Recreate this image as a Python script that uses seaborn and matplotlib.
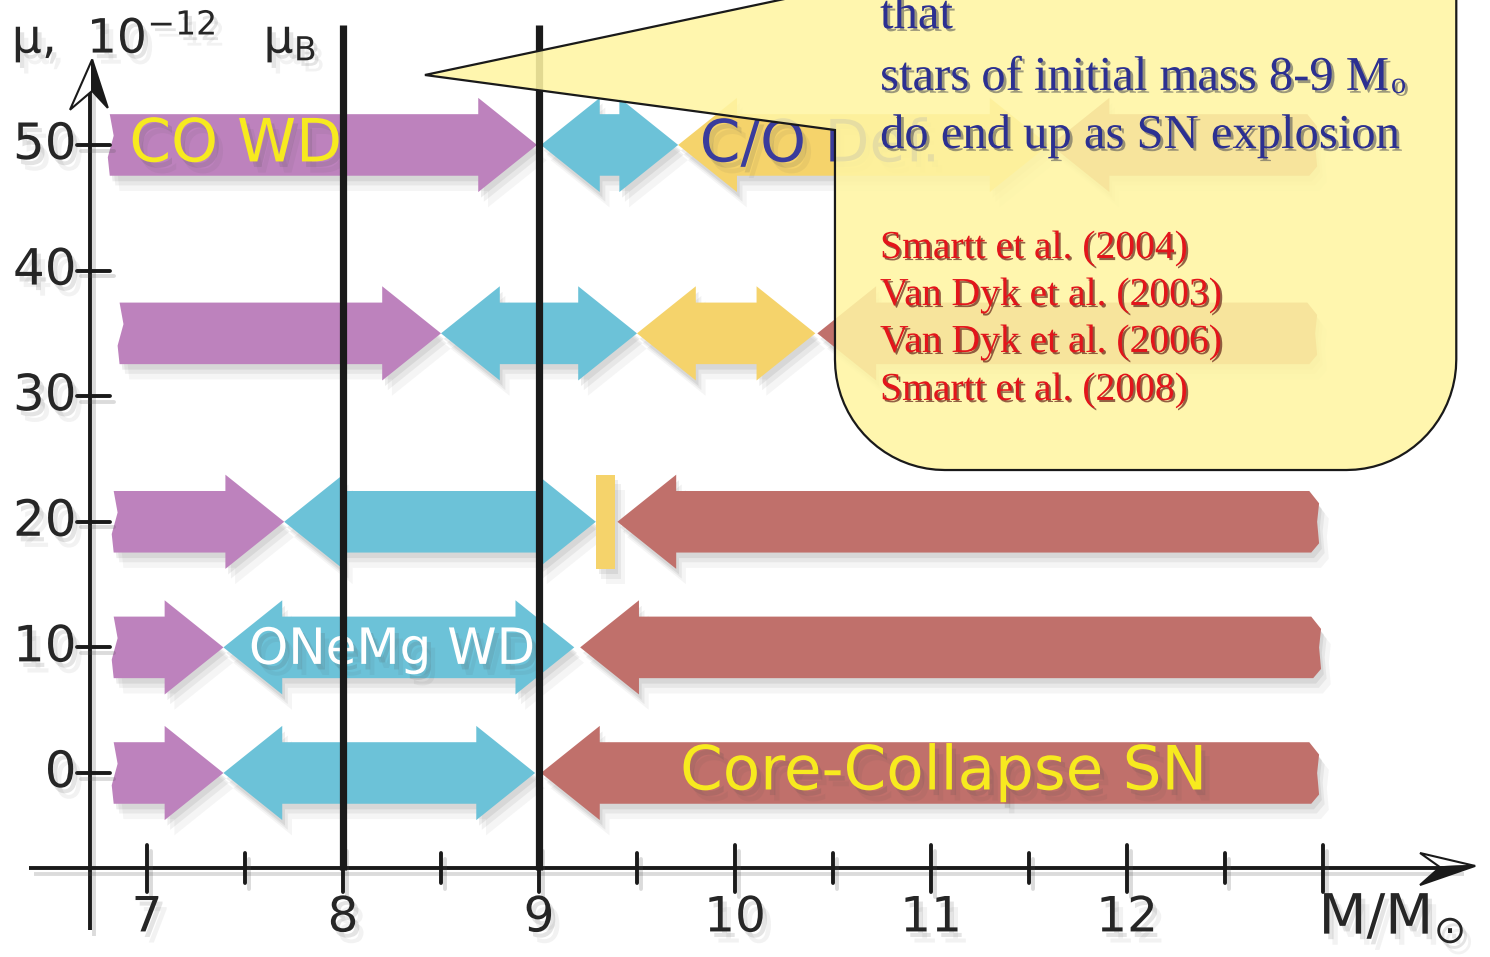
import matplotlib
matplotlib.use("Agg")
import matplotlib.pyplot as plt
import matplotlib.patheffects as pe
from matplotlib.patches import Polygon
import numpy as np
import seaborn as sns

# stellar fate vs. neutrino magnetic moment
mu_rows = [0, 10, 20, 35, 50]

# (phase, start mass, end mass, arrow kind)
row_mu0 = [("CO", 6.83, 7.39, "right"), ("ONeMg", 7.39, 8.98, "both"),
           ("CC", 9.01, 12.98, "left")]
row_mu10 = [("CO", 6.83, 7.39, "right"), ("ONeMg", 7.39, 9.18, "both"),
            ("CC", 9.21, 12.99, "left")]
row_mu20 = [("CO", 6.83, 7.70, "right"), ("ONeMg", 7.70, 9.29, "both"),
            ("CODef", 9.29, 9.39, "bar"), ("CC", 9.40, 12.98, "left")]
row_mu35 = [("CO", 6.86, 8.50, "right"), ("ONeMg", 8.50, 9.50, "both"),
            ("CODef", 9.50, 10.41, "both"), ("CC", 10.42, 12.97, "left")]
row_mu50 = [("CO", 6.81, 8.99, "right"), ("ONeMg", 9.01, 9.71, "both"),
            ("CODef", 9.71, 11.60, "both"), ("CC", 11.61, 12.97, "left")]
rows = [row_mu0, row_mu10, row_mu20, row_mu35, row_mu50]

phase_names = ["CO", "ONeMg", "CODef", "CC"]
phase_colors = dict(zip(phase_names, sns.color_palette(
    ["#bd82bd", "#6cc2d8", "#f5d36b", "#c0706b"])))

# (text, start mass, mu, colour, size)
phase_labels = [("CO WD", 6.91, 50, "#f7ea1f", 43),
                ("ONeMg WD", 7.52, 9.8, "white", 36),
                ("C/O Def.", 9.82, 50, "#3a3c9c", 42),
                ("Core-Collapse SN", 9.72, 0, "#f7ea1f", 44)]

y_ticks = [0, 10, 20, 30, 40, 50]
x_major = [7, 8, 9, 10, 11, 12, 13]
x_minor = [7.5, 8.5, 9.5, 10.5, 11.5, 12.5]
x_labels = ["7", "8", "9", "10", "11", "12"]
mass_limits = [8, 9]

callout_main = ["that", "stars of initial mass 8-9 M", "do end up as SN explosion"]
callout_refs = ["Smartt et al. (2004)", "Van Dyk et al. (2003)",
                "Van Dyk et al. (2006)", "Smartt et al. (2008)"]

sns.set_theme(style="white")
plt.rcParams['font.family'] = ['DejaVu Sans']
plt.rcParams['mathtext.fontset'] = 'dejavusans'

BODY = 2.45   # half height of arrow body (in mu units)
HEAD = 3.75   # half height of arrow head
HL = 0.30     # head length (in mass units)


def arrow_points(x0, x1, y, kind):
    if kind == "bar":
        return [(x0, y - HEAD), (x1, y - HEAD), (x1, y + HEAD), (x0, y + HEAD)]
    left_end = [(x0, y + BODY), (x0 + 0.02, y + 0.3 * BODY),
                (x0 - 0.01, y - 0.4 * BODY), (x0, y - BODY)]
    right_end = [(x1 - 0.04, y - BODY), (x1, y - 0.7 * BODY),
                 (x1 - 0.01, y), (x1, y + 0.6 * BODY), (x1 - 0.05, y + BODY)]
    if kind in ("left", "both"):
        left_end = [(x0 + HL, y + BODY), (x0 + HL, y + HEAD), (x0, y),
                    (x0 + HL, y - HEAD), (x0 + HL, y - BODY)]
    if kind in ("right", "both"):
        right_end = [(x1 - HL, y - BODY), (x1 - HL, y - HEAD), (x1, y),
                     (x1 - HL, y + HEAD), (x1 - HL, y + BODY)]
    return left_end + right_end


fig = plt.figure(figsize=(14.9, 9.57), dpi=100)
ax = fig.add_axes([0, 0, 1, 1])
ax.set_xlim(6.25, 13.852)
ax.set_ylim(-14.65, 61.54)
ax.axis('off')

soft_shadow = [pe.SimplePatchShadow(offset=(2, -4), shadow_rgbFace='0.25', alpha=0.09),
               pe.SimplePatchShadow(offset=(4, -7), shadow_rgbFace='0.25', alpha=0.07),
               pe.SimplePatchShadow(offset=(7, -11), shadow_rgbFace='0.25', alpha=0.05)]
text_shadow = [pe.SimplePatchShadow(offset=(3, -4), shadow_rgbFace='0.3', alpha=0.15),
               pe.SimplePatchShadow(offset=(6, -8), shadow_rgbFace='0.3', alpha=0.07),
               pe.Normal()]

# arrows: shadows first, then the bodies
for mu, segs in zip(mu_rows, rows):
    for phase, x0, x1, kind in segs:
        pts = arrow_points(x0, x1, mu, kind)
        ax.add_patch(Polygon(pts, closed=True, facecolor='k', edgecolor='none',
                             zorder=1, path_effects=soft_shadow))
for mu, segs in zip(mu_rows, rows):
    for phase, x0, x1, kind in segs:
        pts = arrow_points(x0, x1, mu, kind)
        ax.add_patch(Polygon(pts, closed=True, facecolor=phase_colors[phase],
                             edgecolor='none', zorder=2))

for txt, x, mu, col, fs in phase_labels:
    ax.text(x, mu, txt, color=col, fontsize=fs, ha='left', va='center', zorder=3,
            path_effects=text_shadow)

# hand-drawn looking axes
line_fx = [pe.SimpleLineShadow(offset=(3, -4), shadow_color='0.3', alpha=0.2), pe.Normal()]
y_axis_x = 6.71
x_axis_y = -7.56
ax.plot([y_axis_x, y_axis_x], [-12.5, 55.5], color='k', lw=2.8, zorder=4,
        solid_capstyle='butt', path_effects=line_fx)
ax.plot([6.40, 13.70], [x_axis_y, x_axis_y], color='k', lw=2.8, zorder=4,
        solid_capstyle='butt', path_effects=line_fx)
for t in y_ticks:
    ax.plot([6.643, 6.811], [t, t], color='k', lw=2.8, zorder=4, path_effects=line_fx)
    ax.text(6.640, t, str(t), fontsize=36, ha='right', va='center', zorder=4,
            path_effects=text_shadow)
for t in x_major:
    ax.plot([t, t], [-5.73, -9.47], color='k', lw=2.8, zorder=4, path_effects=line_fx)
for t in x_minor:
    ax.plot([t, t], [-6.37, -8.76], color='k', lw=2.8, zorder=4, path_effects=line_fx)
for t, lab in zip(x_major, x_labels):
    ax.text(t, -11.5, lab, fontsize=35, ha='center', va='center', zorder=4,
            path_effects=text_shadow)
ax.text(13.35, -11.6, r"M/M$_{\odot}$", fontsize=40, ha='center', va='center',
        zorder=4, path_effects=text_shadow)
ax.text(6.31, 58.6, r"μ,  10$^{-12}$   μ$_{\mathrm{B}}$", fontsize=34, ha='left',
        va='center', zorder=4, path_effects=text_shadow)

# axis arrow heads: half open, half filled
ax.add_patch(Polygon([(6.72, 56.8), (6.607, 52.8), (6.72, 54.3)], closed=True,
                     facecolor='white', edgecolor='k', lw=1.5, zorder=5))
ax.add_patch(Polygon([(6.72, 56.8), (6.72, 54.3), (6.80, 52.95)], closed=True,
                     facecolor='k', edgecolor='k', lw=1.5, zorder=5))
ax.add_patch(Polygon([(13.776, -7.4), (13.495, -6.37), (13.597, -7.5)], closed=True,
                     facecolor='white', edgecolor='k', lw=1.5, zorder=5))
ax.add_patch(Polygon([(13.776, -7.4), (13.597, -7.5), (13.495, -8.92)], closed=True,
                     facecolor='k', edgecolor='k', lw=1.5, zorder=5))

# 8 and 9 solar mass limits
for m in mass_limits:
    ax.plot([m, m], [-7.7, 59.55], color='k', lw=5.2, zorder=8, solid_capstyle='butt')

# speech-bubble callout
bl, br, bb, top = 10.51, 13.68, 24.12, 66.0
rx, ry = 0.56, 8.8
tip = (8.418, 55.57)
th = np.linspace(np.pi, 1.5 * np.pi, 20)
corner_l = [(bl + rx + rx * np.cos(a), bb + ry + ry * np.sin(a)) for a in th]
th2 = np.linspace(1.5 * np.pi, 2 * np.pi, 20)
corner_r = [(br - rx + rx * np.cos(a), bb + ry + ry * np.sin(a)) for a in th2]
bubble = [tip, (bl, 51.19)] + corner_l + corner_r + [(br, top), (11.58, top)]
ax.add_patch(Polygon(bubble, closed=True, facecolor=(1.0, 0.96, 0.64, 0.88),
                     edgecolor='k', lw=1.6, zorder=10))

blue_fx = [pe.withSimplePatchShadow(offset=(2, -2), shadow_rgbFace='0.35', alpha=0.6)]
red_fx = [pe.withSimplePatchShadow(offset=(1.5, -1.5), shadow_rgbFace='#4a0000', alpha=0.6)]
main_y = [59.3, 54.38, 49.76]
ref_y = [41.0, 37.26, 33.52, 29.70]
handles = []
for txt, y in zip(callout_main, main_y):
    handles.append(ax.text(10.74, y, txt, family='Liberation Serif', fontsize=35,
                           color='#2c3091', ha='left', va='baseline', zorder=11,
                           path_effects=blue_fx))
ax.annotate("o", xy=(1.0, 0.0), xycoords=handles[1], xytext=(1, 0),
            textcoords='offset points', family='Liberation Serif', fontsize=22,
            color='#2c3091', ha='left', va='bottom', zorder=11, path_effects=blue_fx)
for txt, y in zip(callout_refs, ref_y):
    ax.text(10.74, y, txt, family='Liberation Serif', fontsize=28.5,
            color='#e3151b', ha='left', va='baseline', zorder=11, path_effects=red_fx)

fig.savefig("out.png", dpi=100, facecolor='white')
